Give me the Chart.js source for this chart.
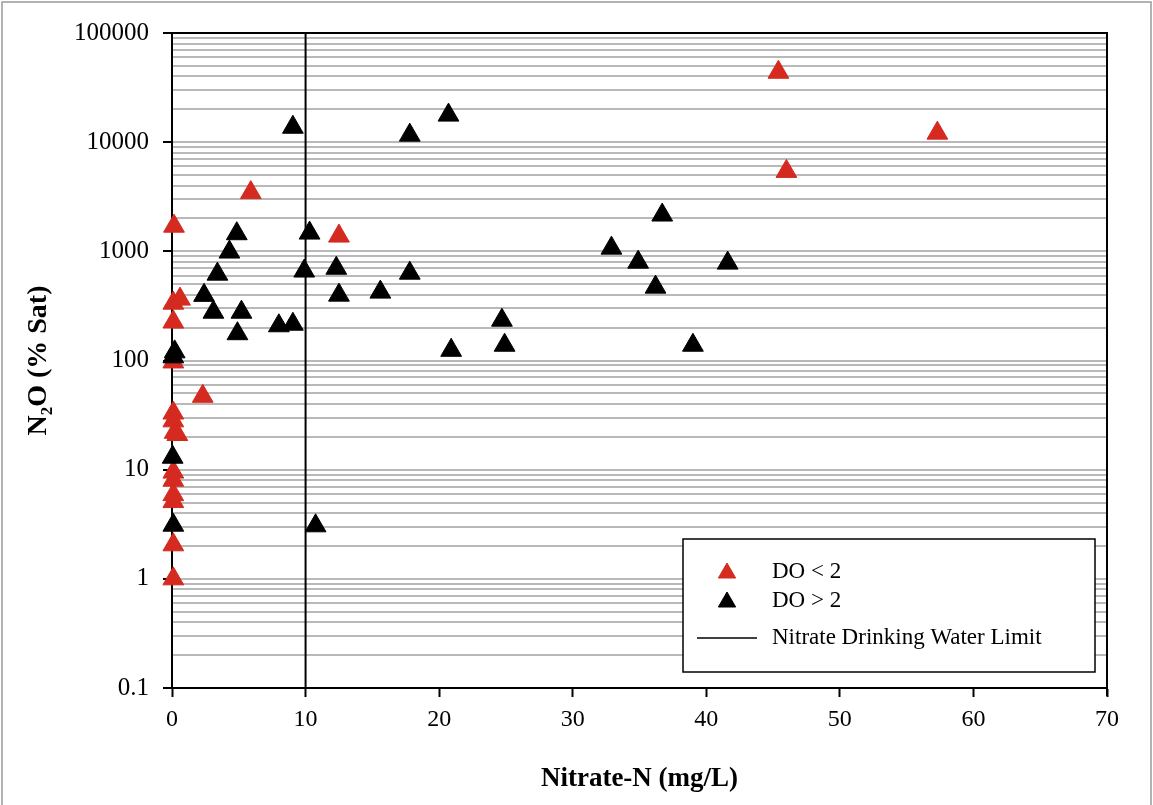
<!DOCTYPE html>
<html>
<head>
<meta charset="utf-8">
<script src="https://cdn.jsdelivr.net/npm/chart.js@4.4.1/dist/chart.umd.min.js"></script>
<style>
  html, body { margin: 0; padding: 0; background: #fff; }
  canvas { display: block; }
</style>
</head>
<body>
<canvas id="chart" width="1153" height="805"></canvas>
<script>
// DO < 2 (red)
const lowDoNitrate = [45.4, 57.3, 46.0, 5.9, 0.15, 12.5, 0.1, 0.6, 0.1, 0.1, 2.3, 0.1, 0.1, 0.2, 0.4, 0.1, 0.1, 0.1, 0.1, 0.1, 0.1];
const lowDoN2O     = [43700, 12100, 5400, 3450, 1700, 1380, 335, 365, 225, 97, 47, 33, 28, 22, 21, 9.5, 8, 5.9, 5.1, 2.05, 1.0];

// DO > 2 (black)
const highDoNitrate = [9.05, 17.8, 20.7, 4.85, 10.3, 4.3, 3.4, 9.9, 12.3, 17.8, 2.4, 12.5, 15.6, 3.1, 5.2, 8.0, 9.05, 4.9,
                       20.9, 24.7, 24.9, 32.9, 34.9, 36.2, 36.7, 41.6, 39.0, 0.2, 0.1, 0.05, 0.1, 10.75];
const highDoN2O     = [13700, 11600, 17700, 1450, 1470, 985, 618, 660, 700, 631, 395, 397, 423, 277, 277, 208, 215, 176,
                       124, 234, 138, 1070, 796, 470, 2150, 780, 138, 120, 108, 13, 3.1, 3.06];

const nitrateLimit = 10;
const yTickLabels = ['0.1', '1', '10', '100', '1000', '10000', '100000'];
const xTickLabels = ['0', '10', '20', '30', '40', '50', '60', '70'];

const RED = '#d42a20';
const FONT = "'Liberation Serif', 'Times New Roman', serif";

function pts(xs, ys) {
  return xs.map((x, i) => ({ x: x, y: ys[i] }));
}

function isDecade(v) {
  const l = Math.log10(v);
  return Math.abs(l - Math.round(l)) < 1e-9;
}

// all 1..9 multiples of each decade for the grid
const yGridValues = [];
for (let e = -1; e < 5; e++) {
  for (let m = 1; m <= 9; m++) yGridValues.push(+(m * Math.pow(10, e)).toPrecision(3));
}
yGridValues.push(100000);

const framePlugin = {
  id: 'frame',
  beforeDraw(chart) {
    const ctx = chart.ctx;
    ctx.save();
    ctx.strokeStyle = '#9a9a9a';
    ctx.lineWidth = 1.5;
    ctx.strokeRect(2, 2, chart.width - 4, chart.height + 10);
    ctx.restore();
  },
  afterDraw(chart) {
    const ctx = chart.ctx;
    const a = chart.chartArea;
    ctx.save();
    ctx.strokeStyle = '#000';
    ctx.lineWidth = 2;
    ctx.beginPath();
    ctx.moveTo(a.left - 9, a.top);
    ctx.lineTo(a.right, a.top);
    ctx.lineTo(a.right, a.bottom + 8);
    ctx.stroke();

    // legend box inside the plot
    const w = 412, h = 133;
    const bx = a.right - 12 - w, by = a.bottom - 16 - h;
    ctx.fillStyle = '#fff';
    ctx.fillRect(bx, by, w, h);
    ctx.lineWidth = 1.5;
    ctx.strokeRect(bx, by, w, h);

    const items = [
      { label: 'DO < 2', color: RED, kind: 'tri' },
      { label: 'DO > 2', color: '#000', kind: 'tri' },
      { label: 'Nitrate Drinking Water Limit', color: '#000', kind: 'line' }
    ];
    ctx.font = '23px ' + FONT;
    ctx.textBaseline = 'middle';
    ctx.textAlign = 'left';
    const rowY = [by + 33, by + 62, by + 99];
    items.forEach((it, i) => {
      const cy = rowY[i];
      const cx = bx + 44;
      if (it.kind === 'tri') {
        ctx.fillStyle = it.color;
        ctx.strokeStyle = it.color;
        ctx.lineWidth = 1;
        Chart.helpers.drawPoint(ctx, { pointStyle: 'triangle', radius: 10, rotation: 0, borderWidth: 1 }, cx, cy + 1);
      } else {
        ctx.strokeStyle = it.color;
        ctx.lineWidth = 1.5;
        ctx.beginPath();
        ctx.moveTo(bx + 14, cy);
        ctx.lineTo(bx + 74, cy);
        ctx.stroke();
      }
      ctx.fillStyle = '#000';
      ctx.fillText(it.label, bx + 89, cy);
    });
    ctx.restore();
  }
};

new Chart(document.getElementById('chart').getContext('2d'), {
  type: 'scatter',
  data: {
    datasets: [
      {
        label: 'DO < 2',
        data: pts(lowDoNitrate, lowDoN2O),
        pointStyle: 'triangle',
        pointRadius: 12,
        pointBackgroundColor: RED,
        pointBorderColor: RED,
        pointBorderWidth: 1,
        clip: false,
        order: 2
      },
      {
        label: 'DO > 2',
        data: pts(highDoNitrate, highDoN2O),
        pointStyle: 'triangle',
        pointRadius: 12,
        pointBackgroundColor: '#000',
        pointBorderColor: '#000',
        pointBorderWidth: 1,
        clip: false,
        order: 1
      },
      {
        label: 'Nitrate Drinking Water Limit',
        type: 'line',
        data: [{ x: nitrateLimit, y: 0.1 }, { x: nitrateLimit, y: 100000 }],
        borderColor: '#000',
        borderWidth: 2,
        pointRadius: 0,
        order: 3
      }
    ]
  },
  options: {
    responsive: false,
    animation: false,
    layout: { padding: { left: 0, top: 33, right: 46, bottom: 0 } },
    plugins: {
      legend: { display: false },
      tooltip: { enabled: false }
    },
    scales: {
      x: {
        type: 'linear',
        min: 0,
        max: 70,
        afterFit(scale) { scale.height = 117; },
        afterBuildTicks(scale) {
          scale.ticks = xTickLabels.map(t => ({ value: Number(t) }));
        },
        ticks: {
          autoSkip: false,
          padding: 8,
          color: '#000',
          font: { family: FONT, size: 24 },
          callback: (v, i) => xTickLabels[i]
        },
        grid: {
          drawOnChartArea: false,
          tickLength: 9,
          tickColor: '#000',
          tickWidth: 2
        },
        border: { color: '#000', width: 2 },
        title: {
          display: true,
          text: 'Nitrate-N (mg/L)',
          color: '#000',
          font: { family: FONT, size: 27, weight: 'bold' },
          padding: { top: 0, bottom: 10 }
        }
      },
      y: {
        type: 'logarithmic',
        min: 0.1,
        max: 100000,
        afterFit(scale) { scale.width = 172; },
        afterBuildTicks(scale) {
          scale.ticks = yGridValues.map(v => ({ value: v }));
        },
        ticks: {
          autoSkip: false,
          padding: 14,
          color: '#000',
          font: { family: FONT, size: 25 },
          callback: (v) => isDecade(v) ? yTickLabels[Math.round(Math.log10(v)) + 1] : ''
        },
        grid: {
          color: (ctx) => (ctx.tick && (ctx.tick.value === 100000 || ctx.tick.value === 0.1)) ? 'rgba(0,0,0,0)' : '#b9b9b9',
          lineWidth: 2,
          tickLength: 9,
          tickWidth: 2,
          tickColor: (ctx) => (ctx.tick && isDecade(ctx.tick.value)) ? '#000' : 'rgba(0,0,0,0)'
        },
        border: { color: '#000', width: 2 },
        title: {
          display: true,
          text: 'N\u2082O (% Sat)',
          color: '#000',
          font: { family: FONT, size: 28, weight: 'bold' },
          padding: { top: 22, bottom: 0 }
        }
      }
    }
  },
  plugins: [framePlugin]
});
</script>
</body>
</html>
